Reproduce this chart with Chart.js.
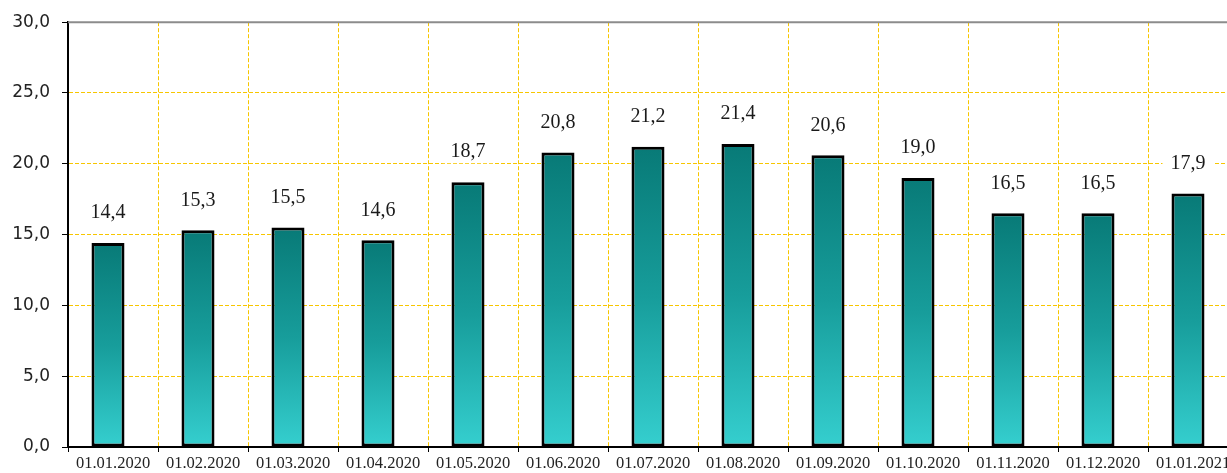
<!DOCTYPE html>
<html>
<head>
<meta charset="utf-8">
<script src="https://cdn.jsdelivr.net/npm/chart.js@4.4.1/dist/chart.umd.min.js"></script>
<style>
  html, body { margin: 0; padding: 0; background: #fff; overflow: hidden; }
  canvas { display: block; }
</style>
</head>
<body>
<canvas id="bar-chart" width="1240" height="473" style="width:1240px;height:473px"></canvas>
<script>
var dates = ["01.01.2020", "01.02.2020", "01.03.2020", "01.04.2020", "01.05.2020", "01.06.2020", "01.07.2020",
             "01.08.2020", "01.09.2020", "01.10.2020", "01.11.2020", "01.12.2020", "01.01.2021"];
var values = [14.4, 15.3, 15.5, 14.6, 18.7, 20.8, 21.2, 21.4, 20.6, 19.0, 16.5, 16.5, 17.9];

function comma(v) { return v.toFixed(1).replace('.', ','); }

// gradient per bar: dark teal on top, light cyan at the base
function barFill(ctx) {
  var chart = ctx.chart, area = chart.chartArea;
  if (!area || ctx.type !== 'data') return '#1a9e9c';
  var y = chart.scales.y;
  var top = y.getPixelForValue(ctx.parsed.y), bottom = y.getPixelForValue(0);
  var g = chart.ctx.createLinearGradient(0, top, 0, bottom);
  g.addColorStop(0, '#087a77');
  g.addColorStop(0.5, '#179d9b');
  g.addColorStop(1, '#35cfcf');
  return g;
}

var valueLabels = {
  id: 'valueLabels',
  afterDatasetsDraw: function(chart) {
    var ctx = chart.ctx;
    ctx.save();
    ctx.font = '20px "Liberation Serif"';
    ctx.textAlign = 'center';
    ctx.textBaseline = 'middle';
    chart.getDatasetMeta(0).data.forEach(function(bar, i) {
      var t = comma(values[i]);
      var w = ctx.measureText(t).width;
      var cy = bar.y - 30;
      ctx.fillStyle = '#fff';
      ctx.fillRect(bar.x - w / 2 - 8, cy - 11, w + 16, 22);
      ctx.fillStyle = '#1a1a1a';
      ctx.fillText(t, bar.x, cy);
    });
    ctx.restore();
  },
  afterDraw: function(chart) {
    var a = chart.chartArea, ctx = chart.ctx;
    ctx.save();
    ctx.strokeStyle = '#8c8c8c';
    ctx.lineWidth = 2;
    ctx.beginPath();
    ctx.moveTo(a.left, a.top);
    ctx.lineTo(a.right, a.top);
    ctx.stroke();
    ctx.restore();
  }
};

new Chart(document.getElementById("bar-chart"), {
  type: 'bar',
  data: {
    labels: dates,
    datasets: [{
      xAxisID: 'xb',
      yAxisID: 'y',
      data: values.map(function(v, i) { return { x: i, y: v }; }),
      backgroundColor: barFill,
      borderColor: '#000',
      borderWidth: 3,
      borderSkipped: false,
      barPercentage: 0.367,
      categoryPercentage: 1
    }]
  },
  options: {
    responsive: false,
    animation: false,
    layout: { padding: { top: 21, right: 2, left: 0, bottom: 0 } },
    plugins: { legend: { display: false }, tooltip: { enabled: false } },
    scales: {
      xb: {
        type: 'linear',
        axis: 'x',
        display: false,
        offset: false,
        grid: { offset: false, display: false },
        min: -0.4444,
        max: 12.5556
      },
      x: {
        type: 'category',
        axis: 'x',
        position: 'bottom',
        offset: true,
        afterFit: function(s) { s.height = 26; },
        grid: {
          offset: true,
          color: '#f7c600',
          lineWidth: 1,
          tickLength: 5,
          tickColor: '#000',
          tickWidth: 1
        },
        border: { display: true, color: '#000', width: 2, dash: [4, 2] },
        ticks: {
          autoSkip: false,
          maxRotation: 0,
          padding: 2,
          color: '#222',
          font: { family: '"Liberation Serif"', size: 16.5 }
        }
      },
      y: {
        axis: 'y',
        min: 0,
        max: 30,
        afterFit: function(s) { s.width = 68; },
        grid: {
          color: '#f7c600',
          lineWidth: 1,
          tickLength: 6,
          tickColor: '#000',
          tickWidth: 1
        },
        border: { display: true, color: '#000', width: 2, dash: [4, 2] },
        ticks: {
          stepSize: 5,
          padding: 12,
          color: '#222',
          font: { family: '"DejaVu Sans"', size: 17 },
          callback: function(v) { return comma(v); }
        }
      }
    }
  },
  plugins: [valueLabels]
});
</script>
</body>
</html>
